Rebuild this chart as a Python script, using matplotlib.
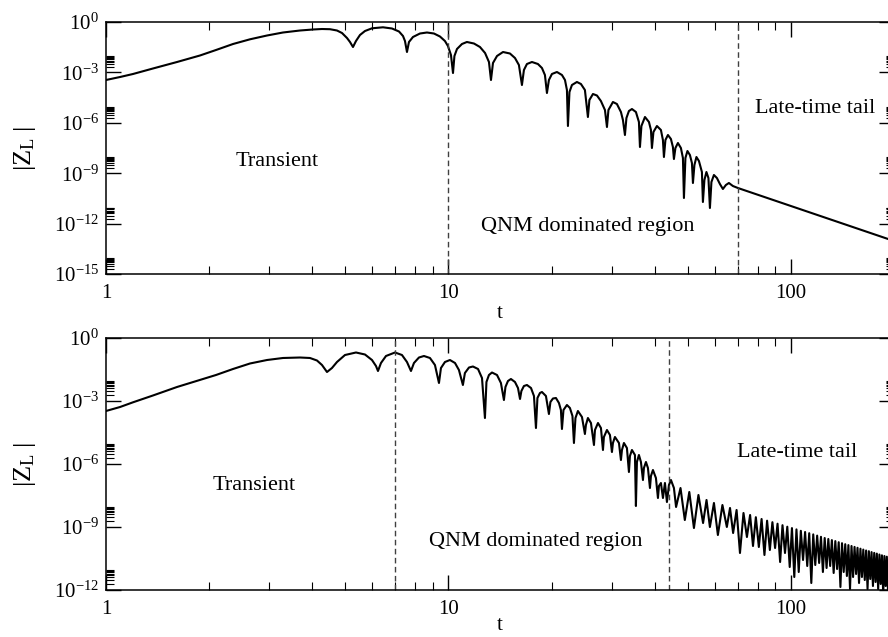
import numpy as np
import matplotlib
matplotlib.use("Agg")
import matplotlib.pyplot as plt
from matplotlib.ticker import FixedLocator, FixedFormatter, LogLocator, NullFormatter

plt.rcParams['font.family'] = ['Liberation Serif', 'DejaVu Serif']
plt.rcParams['mathtext.fontset'] = 'custom'
plt.rcParams['mathtext.rm'] = 'Liberation Serif'
plt.rcParams['mathtext.it'] = 'Liberation Serif:italic'
plt.rcParams['mathtext.bf'] = 'Liberation Serif:bold'

# ---------------- data: top panel (t, log10|Z_L|) ----------------
top_t = [1.000, 1.099, 1.199, 1.371, 1.612, 1.881, 2.095, 2.349, 2.633, 2.952,
         3.287, 3.685, 4.022, 4.273, 4.508, 4.726, 4.888, 5.055, 5.158, 5.263,
         5.370, 5.516, 5.705, 5.980, 6.439, 6.841, 7.171, 7.366, 7.465, 7.566,
         7.668, 7.877, 8.256, 8.654, 9.071, 9.445, 9.766, 9.966, 10.17, 10.31,
         10.41, 10.59, 10.95, 11.32, 11.87, 12.36, 12.79, 13.13, 13.31, 13.49,
         13.86, 14.43, 15.12, 15.64, 16.06, 16.39, 16.61, 16.95, 17.53, 18.25,
         18.75, 19.13, 19.39, 19.65, 20.05, 20.74, 21.45, 21.89, 22.18, 22.33,
         22.56, 22.94, 23.72, 24.37, 25.03, 25.54, 25.80, 26.42, 27.14, 27.87,
         28.64, 29.03, 29.32, 30.22, 31.04, 31.89, 32.32, 32.76, 33.09, 33.65,
         34.34, 35.27, 35.99, 36.24, 36.60, 37.48, 38.50, 39.02, 39.28, 39.68,
         40.62, 41.73, 42.29, 42.58, 43.01, 43.74, 44.63, 45.23, 45.54, 46.00,
         46.78, 47.73, 48.38, 48.71, 49.20, 49.87, 50.71, 51.40, 51.75, 52.27,
         52.98, 53.88, 54.97, 55.34, 55.90, 56.66, 57.43, 58.01, 58.60, 59.59,
         60.80, 62.04, 63.30, 64.59, 65.91, 67.70, 70.01, 200.0]
top_logz = [-3.452, -3.274, -3.095, -2.768, -2.381, -1.994, -1.667, -1.310, -1.030, -0.804,
            -0.625, -0.506, -0.446, -0.417, -0.429, -0.506, -0.655, -0.952, -1.190, -1.488,
            -1.131, -0.774, -0.536, -0.375, -0.315, -0.387, -0.565, -0.833, -1.131, -1.786,
            -1.190, -0.893, -0.685, -0.625, -0.685, -0.863, -1.131, -1.429, -1.964, -3.036,
            -2.024, -1.607, -1.310, -1.190, -1.280, -1.488, -1.845, -2.381, -3.452, -2.440,
            -2.024, -1.786, -1.875, -2.143, -2.560, -3.750, -2.857, -2.500, -2.381, -2.500,
            -2.738, -3.155, -4.226, -3.452, -3.095, -2.976, -3.155, -3.452, -4.048, -6.190,
            -4.167, -3.750, -3.571, -3.690, -4.048, -5.655, -4.643, -4.286, -4.375, -4.702,
            -5.238, -6.250, -5.238, -4.762, -4.881, -5.357, -5.833, -6.726, -5.714, -5.298,
            -5.179, -5.357, -5.952, -7.440, -6.190, -5.655, -5.952, -6.429, -7.500, -6.548,
            -6.190, -6.429, -7.024, -8.036, -7.024, -6.726, -6.964, -7.440, -8.155, -7.500,
            -7.202, -7.500, -8.095, -10.476, -8.095, -7.679, -7.917, -8.393, -9.583, -8.512,
            -8.036, -8.274, -8.929, -10.714, -9.405, -8.929, -9.286, -11.071, -9.524, -9.107,
            -9.286, -9.643, -9.940, -9.702, -9.583, -9.762, -9.881, -13.036]

# ---------------- data: bottom panel (t, log10|Z_L|) ----------------
bot_t = [1.000, 1.099, 1.199, 1.371, 1.612, 1.881, 2.095, 2.349, 2.633, 2.952,
         3.287, 3.685, 3.941, 4.131, 4.273, 4.419, 4.569, 4.726, 4.987, 5.370,
         5.705, 5.980, 6.143, 6.226, 6.353, 6.570, 6.981, 7.316, 7.566, 7.772,
         7.930, 8.201, 8.482, 8.831, 9.132, 9.382, 9.508, 9.767, 10.10, 10.45,
         10.73, 11.02, 11.17, 11.48, 11.79, 12.20, 12.53, 12.78, 12.91, 13.13,
         13.40, 13.86, 14.23, 14.52, 14.67, 14.92, 15.22, 15.64, 15.96, 16.18,
         16.33, 16.61, 16.95, 17.42, 17.77, 18.01, 18.19, 18.50, 18.75, 19.26,
         19.65, 19.85, 20.19, 20.60, 21.02, 21.30, 21.45, 21.67, 22.18, 22.63,
         23.02, 23.25, 23.49, 23.88, 24.54, 25.03, 25.20, 25.54, 26.07, 26.60,
         26.78, 27.33, 27.88, 28.26, 28.44, 29.03, 29.62, 30.02, 30.22, 30.63,
         31.47, 31.89, 32.11, 32.54, 33.20, 33.65, 33.88, 34.34, 35.04, 35.27,
         35.51, 35.99, 36.48, 36.98, 37.22, 37.73, 38.24, 38.76, 39.02, 39.55,
         40.35, 40.90, 41.18, 41.73, 42.30, 42.87, 43.45, 44.04, 44.64, 45.54]
bot_logz = [-3.476, -3.286, -3.062, -2.738, -2.333, -2.000, -1.762, -1.476, -1.214, -1.048,
            -0.952, -0.929, -0.952, -1.071, -1.286, -1.619, -1.429, -1.143, -0.810, -0.690,
            -0.786, -1.048, -1.333, -1.571, -1.190, -0.857, -0.690, -0.810, -1.143, -1.571,
            -1.190, -0.929, -0.857, -0.952, -1.286, -2.143, -1.429, -1.143, -1.048, -1.190,
            -1.524, -2.238, -1.667, -1.405, -1.357, -1.476, -1.905, -3.810, -2.095, -1.762,
            -1.643, -1.762, -2.143, -2.952, -2.333, -2.048, -1.952, -2.095, -2.381, -2.905,
            -2.524, -2.286, -2.238, -2.381, -2.762, -4.286, -2.857, -2.619, -2.571, -2.762,
            -3.619, -3.048, -2.881, -2.857, -3.095, -3.429, -4.333, -3.429, -3.190, -3.333,
            -3.714, -5.000, -3.810, -3.476, -3.762, -4.571, -4.143, -3.810, -4.048, -5.095,
            -4.381, -4.048, -4.286, -5.333, -4.714, -4.381, -4.619, -5.429, -5.000, -4.714,
            -5.000, -5.810, -5.333, -5.000, -5.238, -6.381, -5.619, -5.333, -5.571, -8.000,
            -5.905, -5.571, -5.905, -6.762, -6.190, -5.905, -6.190, -7.143, -6.571, -6.286,
            -6.667, -7.619, -7.048, -6.905, -7.619, -6.905, -7.810, -7.000, -6.762, -7.143]

# late-time oscillating tail of the bottom panel: zeros (dips) and crests
tail_dip_t = [46.2, 49.0, 52.1, 55.4, 58.0, 61.2, 65.0, 67.8, 71.0, 74.4,
              77.5, 80.6, 83.7, 86.8, 89.9, 93.0, 96.1, 99.2, 102.3, 105.4,
              108.5, 111.6, 114.7, 117.8, 120.9, 124.0, 127.1, 130.2, 133.3, 136.4,
              139.5, 142.6, 145.7, 148.8, 151.9, 155.0, 158.1, 161.2, 164.3, 167.4,
              170.5, 173.6, 176.7, 179.8, 182.9, 186.0, 189.1, 192.2, 195.3, 198.4]
tail_dip_logz = [-8.048, -8.667, -9.048, -8.810, -9.000, -9.381, -9.000, -9.286, -10.238, -9.476,
                 -9.905, -9.952, -10.333, -10.095, -10.000, -10.667, -10.238, -10.905, -11.381, -11.143,
                 -10.571, -10.857, -11.667, -10.810, -10.714, -11.143, -10.952, -10.857, -11.190, -11.000,
                 -11.857, -11.143, -11.333, -11.952, -11.381, -11.238, -11.667, -11.381, -11.524, -11.952,
                 -11.476, -11.810, -11.619, -11.952, -11.714, -12.200, -11.810, -12.200, -11.860, -12.200]
tail_peak_t = [47.6, 50.5, 53.7, 56.7, 59.6, 63.1, 66.4, 69.4, 72.7, 76.0,
               79.0, 82.1, 85.2, 88.3, 91.4, 94.5, 97.6, 100.7, 103.8, 106.9,
               110.0, 113.1, 116.2, 119.3, 122.4, 125.5, 128.6, 131.7, 134.8, 137.9,
               141.0, 144.1, 147.2, 150.3, 153.4, 156.5, 159.6, 162.7, 165.8, 168.9,
               172.0, 175.1, 178.2, 181.3, 184.4, 187.5, 190.6, 193.7, 196.8, 200.0]
tail_peak_logz = [-7.143, -7.333, -7.476, -7.714, -7.857, -7.952, -8.095, -8.190, -8.333, -8.429,
                  -8.533, -8.619, -8.700, -8.771, -8.843, -8.914, -8.986, -9.052, -9.114, -9.181,
                  -9.238, -9.295, -9.352, -9.410, -9.467, -9.524, -9.571, -9.624, -9.671, -9.724,
                  -9.771, -9.819, -9.862, -9.905, -9.948, -9.990, -10.033, -10.076, -10.119, -10.152,
                  -10.195, -10.233, -10.267, -10.310, -10.348, -10.381, -10.414, -10.448, -10.486, -10.510]

top_dividers = [10.0, 70.0]
bot_dividers = [7.0, 44.0]
xtick_vals = [1, 10, 100]
xtick_labels = ['1', '10', '100']
top_major_exp = [0, -3, -6, -9, -12, -15]
bot_major_exp = [0, -3, -6, -9, -12]

# ---------------- figure ----------------
W, H = 888, 637
fig = plt.figure(figsize=(W / 100, H / 100), dpi=100)


def px_rect(x0, y0, x1, y1):
    return [x0 / W, 1 - y1 / H, (x1 - x0) / W, (y1 - y0) / H]


ax1 = fig.add_axes(px_rect(106, 22, 894, 274))
ax2 = fig.add_axes(px_rect(106, 338, 894, 590))


def style(ax, exps, ylim_low, xlabelpad):
    ax.set_xscale('log')
    ax.set_yscale('log')
    ax.set_xlim(1, 200)
    ax.set_ylim(ylim_low, 1.0)
    for s in ax.spines.values():
        s.set_linewidth(1.1)
    ax.xaxis.set_major_locator(FixedLocator(xtick_vals))
    ax.xaxis.set_major_formatter(FixedFormatter(xtick_labels))
    ax.xaxis.set_minor_locator(LogLocator(base=10, subs=np.arange(2, 10), numticks=20))
    ax.xaxis.set_minor_formatter(NullFormatter())
    majors = [10.0 ** e for e in exps]
    ax.yaxis.set_major_locator(FixedLocator(majors))
    ax.yaxis.set_major_formatter(FixedFormatter([r'$\mathrm{10^{%d}}$' % e for e in exps]))
    minors = [m * 10.0 ** e for e in exps if e < 0 for m in range(2, 10)]
    ax.yaxis.set_minor_locator(FixedLocator(minors))
    ax.yaxis.set_minor_formatter(NullFormatter())
    ax.tick_params(which='major', direction='in', length=11, width=1.0,
                   top=True, right=True, labelsize=15, pad=7)
    ax.tick_params(which='minor', direction='in', length=5.5, width=0.8,
                   top=True, right=True)
    ax.tick_params(axis='y', which='major', pad=5)
    ax.set_xlabel('t', fontsize=15, labelpad=xlabelpad)
    ax.set_ylabel(r'$|\mathrm{Z}_{\mathrm{L}}\ |$', fontsize=19)
    ax.yaxis.set_label_coords(-0.086, 0.5)


style(ax1, top_major_exp, 1e-15, 1)
style(ax2, bot_major_exp, 1e-12, -2)

ax1.plot(top_t, 10.0 ** np.array(top_logz), color='black', lw=1.5)

bt = np.array(bot_t + tail_dip_t + tail_peak_t)
bz = 10.0 ** np.array(bot_logz + tail_dip_logz + tail_peak_logz)
order = np.argsort(bt)
ax2.plot(bt[order], bz[order], color='black', lw=1.5)

for x in top_dividers:
    ax1.axvline(x, color='0.25', lw=1.0, ls=(0, (4, 2.5)))
for x in bot_dividers:
    ax2.axvline(x, color='0.25', lw=1.0, ls=(0, (4, 2.5)))

ax1.text(3.16, 10 ** -8.33, 'Transient', fontsize=16, ha='center', va='center')
ax1.text(25.5, 10 ** -12.2, 'QNM dominated region', fontsize=16, ha='center', va='center')
ax1.text(118, 10 ** -5.15, 'Late-time tail', fontsize=16, ha='center', va='center')

ax2.text(2.70, 10 ** -7.0, 'Transient', fontsize=16, ha='center', va='center')
ax2.text(18.0, 10 ** -9.71, 'QNM dominated region', fontsize=16, ha='center', va='center')
ax2.text(104, 10 ** -5.45, 'Late-time tail', fontsize=16, ha='center', va='center')

fig.savefig('out.png', dpi=100)
